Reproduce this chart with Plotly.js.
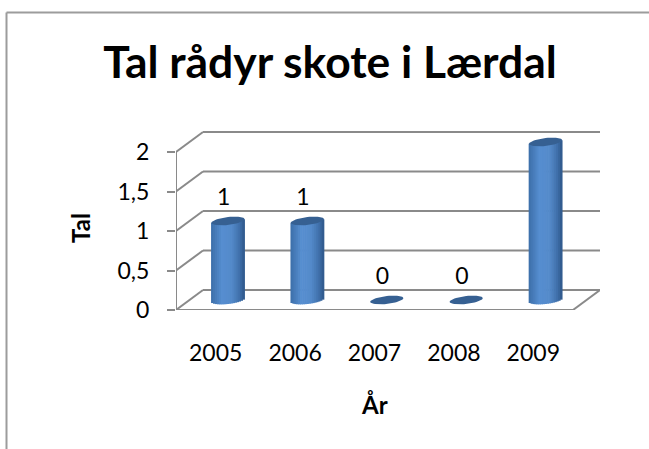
<!DOCTYPE html>
<html><head><meta charset="utf-8">
<script src="https://cdn.plot.ly/plotly-3.0.1.min.js"></script>
<style>html,body{margin:0;padding:0;background:#fff;overflow:hidden}#c{width:649px;height:449px}</style>
</head><body><div id="c"></div>
<script>
const years = ['2005','2006','2007','2008','2009'];
const counts = [1,1,0,0,2];
const yTickVals = [0,0.5,1,1.5,2];
const yTickText = ['0','0,5','1','1,5','2'];
const titleText = 'Tal rådyr skote i Lærdal';
const xTitleText = 'År';
const yTitleText = 'Tal';

// scale helpers (pixels per data unit of the chart's own axes)
const W=649,H=449,L=176,R=600,T=131,B=310;
const ux=79.4, uy=79;
const depthX=27/ux, depthY=20/uy;       // 3-D depth of the floor
const midX=12.3/ux, midY=10/uy;         // bars stand mid-depth
const halfW=16.6/ux, capH=4/uy, tilt=1.8/uy;
const xs=years.map((_,i)=>i);
const px=v=>(v-L)/(R-L), py=v=>(B-v)/(B-T);
const grey='#8a8a8a';

function ramp(t){ // t in -1..1 across the cylinder
  const stops=[[-1,[60,110,168]],[-0.35,[86,142,208]],[0.25,[84,138,202]],[0.75,[62,110,168]],[1,[46,86,136]]];
  for(let k=0;k<stops.length-1;k++){
    const [a,ca]=stops[k],[b,cb]=stops[k+1];
    if(t<=b){const f=(t-a)/(b-a);
      return 'rgb('+ca.map((c,j)=>Math.round(c+(cb[j]-c)*f)).join(',')+')';}
  }
  return 'rgb(46,86,136)';
}
const sx=[],sb=[],sy=[],sw=[],sc=[];
const N=17;
xs.forEach((x0,i)=>{
  if(counts[i]===0) return;               // a zero-height cylinder is only its cap
  for(let k=0;k<N;k++){
    const t=-1+(2*k+1)/N, c=Math.sqrt(1-t*t);
    const low=midY+tilt*t-capH*c, top=counts[i]+midY+tilt*t;
    sx.push(x0+midX+t*halfW); sb.push(low); sy.push(top-low);
    sw.push(2*halfW/N*1.35); sc.push(ramp(t));
  }
});
const traces=[{
  type:'bar',x:sx,y:sy,base:sb,width:sw,
  marker:{color:sc,opacity:1,line:{width:0}},hoverinfo:'skip',showlegend:false
}];
xs.forEach((x0,i)=>{
  const ex=[],ey=[];
  for(let a=0;a<=48;a++){
    const th=a/48*2*Math.PI,t=Math.cos(th);
    ex.push(x0+midX+t*halfW);
    ey.push(counts[i]+midY+tilt*t+capH*Math.sin(th));
  }
  traces.push({type:'scatter',mode:'lines',x:ex,y:ey,fill:'toself',fillcolor:'#366092',
    line:{width:0,color:'#366092'},hoverinfo:'skip',showlegend:false});
});
traces.push({type:'scatter',mode:'text',x:xs.map(x=>x+0.1),y:counts.map(v=>v+0.4),
  text:counts.map(String),textposition:'middle center',cliponaxis:false,
  textfont:{family:'Lato',size:23,color:'#000'},hoverinfo:'skip',showlegend:false});

const xEnd=4.5+depthX;
const lineShape=(x0,y0,x1,y1)=>({type:'line',xref:'x',yref:'y',x0,y0,x1,y1,layer:'below',
  line:{color:grey,width:2}});
const shapes=[];
yTickVals.forEach(v=>{
  shapes.push(lineShape(-0.5+depthX,v+depthY,xEnd,v+depthY));
  shapes.push(lineShape(-0.5,v,-0.5+depthX,v+depthY));
});
shapes.push(lineShape(-0.5,0,-0.5,2));
shapes.push(lineShape(-0.5,0,4.5,0));
shapes.push(lineShape(4.5,0,xEnd,depthY));
// chart-area frame
const frame=(a,b,c,d)=>({type:'line',xref:'paper',yref:'paper',x0:px(a),y0:py(b),x1:px(c),y1:py(d),
  line:{color:'#9c9c9c',width:2}});
shapes.push(frame(6.5,12.5,W,12.5));
shapes.push(frame(6.5,12.5,6.5,H));

const layout={
  width:W,height:H,margin:{l:L,r:W-R,t:T,b:H-B,pad:0},
  paper_bgcolor:'#fff',plot_bgcolor:'rgba(0,0,0,0)',showlegend:false,barmode:'overlay',
  font:{family:'Lato',color:'#000'},
  title:{text:titleText,font:{family:'Lato',size:44.4,weight:700,color:'#000'},
    x:330/W,xanchor:'center',y:1-62/H,yanchor:'middle'},
  xaxis:{range:[-0.5,xEnd],tickmode:'array',tickvals:xs,ticktext:years,showgrid:false,zeroline:false,
    showline:false,ticks:'',ticklabelstandoff:27,tickfont:{family:'Lato',size:23,color:'#000'},fixedrange:true},
  yaxis:{range:[0,(B-T)/uy],tickmode:'array',tickvals:yTickVals,ticktext:yTickText,showgrid:false,zeroline:false,
    showline:false,ticks:'outside',ticklen:8,tickwidth:2,tickcolor:grey,ticklabelstandoff:13,
    tickfont:{family:'Lato',size:23,color:'#000'},fixedrange:true},
  shapes,
  annotations:[
    {text:xTitleText,xref:'paper',yref:'paper',x:px(374),y:py(404),showarrow:false,xanchor:'center',yanchor:'middle',
      font:{family:'Lato',size:24,weight:700,color:'#000'}},
    {text:yTitleText,xref:'paper',yref:'paper',x:px(80),y:py(228),showarrow:false,textangle:-90,xanchor:'center',yanchor:'middle',
      font:{family:'Lato',size:24,weight:700,color:'#000'}}
  ]
};
Plotly.newPlot('c',traces,layout,{displayModeBar:false,staticPlot:true});
</script></body></html>
